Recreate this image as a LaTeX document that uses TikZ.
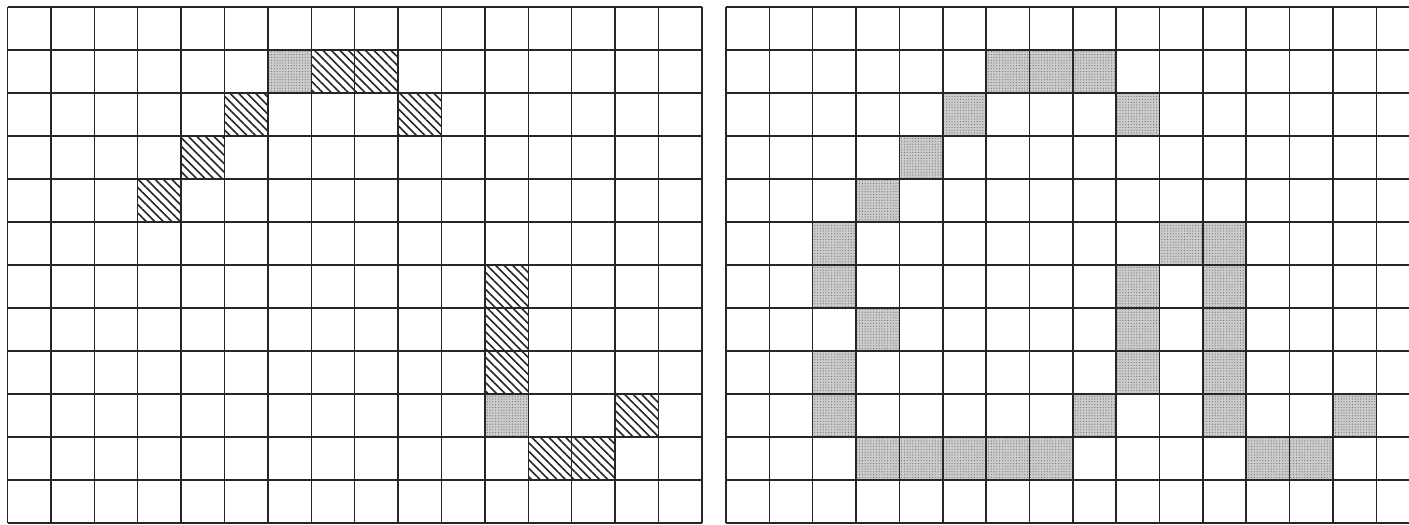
\documentclass[tikz,border=0pt]{standalone}
\usetikzlibrary{patterns.meta}
\tikzset{
  gridline/.style={line width=1.5pt, draw=black!85},
  hatchcell/.style={pattern={Lines[angle=-45,distance=6pt,line width=1.6pt]}, pattern color=black!85},
  dotcell/.style={fill=black!20, postaction={pattern={Dots[distance=2.8pt,radius=0.6pt]}, pattern color=black!55}},
}
\begin{document}
\begin{tikzpicture}[x=1pt,y=-1pt]
\useasboundingbox (0,0) rectangle (1409,525);
\clip (0,0) rectangle (1409,525);
\fill[white] (0,0) rectangle (1409,525);
% ---------- left grid ----------
\begin{scope}[shift={(7.5,7)}, x=43.4pt, y=-43pt]
  \foreach \c/\r in {7/1,8/1,5/2,9/2,4/3,3/4,11/6,11/7,11/8,14/9,12/10,13/10}
    \fill[hatchcell] (\c,\r) rectangle ++(1,1);
  \foreach \c/\r in {6/1,11/9}
    \fill[dotcell] (\c,\r) rectangle ++(1,1);
  \foreach \i in {0,...,16} \draw[gridline] (\i,0) -- (\i,12);
  \foreach \j in {0,...,12} \draw[gridline] (0,\j) -- (16,\j);
\end{scope}
% ---------- right grid ----------
\begin{scope}[shift={(726,7)}, x=43.35pt, y=-43pt]
  \foreach \c/\r in {6/1,7/1,8/1,5/2,9/2,4/3,3/4,2/5,10/5,11/5,2/6,9/6,11/6,3/7,9/7,11/7,2/8,9/8,11/8,2/9,8/9,11/9,14/9,3/10,4/10,5/10,6/10,7/10,12/10,13/10}
    \fill[dotcell] (\c,\r) rectangle ++(1,1);
  \foreach \i in {0,...,15} \draw[gridline] (\i,0) -- (\i,12);
  \foreach \j in {0,...,12} \draw[gridline] (0,\j) -- (16,\j);
\end{scope}
\end{tikzpicture}
\end{document}
